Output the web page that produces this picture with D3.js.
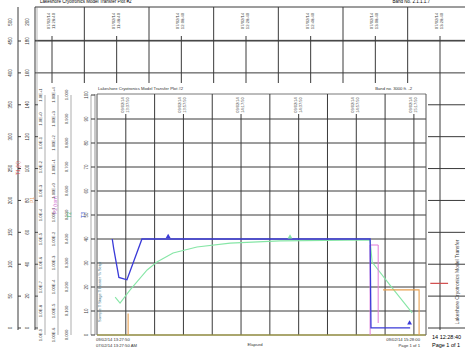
<!DOCTYPE html>
<html>
<head>
<meta charset="utf-8">
<script src="https://cdn.jsdelivr.net/npm/d3@7"></script>
<style>
  html, body { margin: 0; padding: 0; background: #fff; }
  svg { display: block; font-family: "Liberation Sans", "DejaVu Sans", sans-serif; }
</style>
</head>
<body>
<svg id="chart" width="465" height="350"></svg>
<script>
// ---- data ----
// inner chart: elapsed minutes vs temperature
const blueT   = [5.3, 5.8, 7.6, 10.4, 15.6, 94.8, 95.1, 108.7];
const blueV   = [40, 36, 24, 23, 40, 40, 3, 3];
const greenT  = [6.3, 8.0, 11.5, 17.4, 20.8, 26.4, 34.7, 46.2, 63.5, 94.8, 95.5, 101.7, 109.4];
const greenV  = [15.8, 13.3, 18.8, 27.1, 30.4, 34.2, 36.7, 38.3, 39.2, 39.6, 30.4, 20.8, 9.2];
const orangeT = [10.8, 10.8, null, 99.3, 111.8, 111.8];
const orangeV = [0, 9, null, 18.8, 18.8, 0];
const pinkT   = [94.8, 94.8, 97.6, 97.6];
const pinkV   = [0, 37.5, 37.5, 5];
const oliveT  = [0, 114];
const oliveV  = [0, 0];
const blueMarkT = [24.7, 108.5];
const blueMarkV = [41, 5];
const greenMarkT = [67];
const greenMarkV = [40.8];

const innerTicks   = [0, 10, 20, 30, 40, 50, 60, 70, 80, 90, 100];
const innerLabels  = ["0", "10", "20", "30", "40", "50", "60", "70", "80", "90", "100"];
const pressLabelsA = ["1.0E-9", "1.0E-8", "1.0E-7", "1.0E-6", "1.0E-5", "1.0E-4", "1.0E-3", "1.0E-2", "1.0E-1", "1.0E+0", "1.0E+1"];
const pressLabelsB = ["0.000", "0.100", "0.200", "0.300", "0.400", "0.500", "0.600", "0.700", "0.800", "0.900", "1.000"];
const pressLabelsC = ["1.00E-6", "1.00E-5", "1.00E-4", "1.00E-3", "1.00E-2", "1.00E-1", "1.00E+0", "1.00E+1", "1.00E+2", "1.00E+3", "1.00E+4"];
const innerHeadT   = [10, 30, 50, 70, 90, 110];
const innerHeadDate = ["09/02/14", "09/02/14", "09/02/14", "09/02/14", "09/02/14", "09/02/14"];
const innerHeadTime = ["13:37:50", "13:57:50", "14:17:50", "14:37:50", "14:57:50", "15:17:50"];

// outer (background) chart
const outerTicks  = [0, 1, 2, 3, 4, 5, 6, 7, 8, 9];
const outerLabA   = ["0", "50", "100", "150", "200", "250", "300", "350", "400", "450"];
const outerLabB   = ["0", "20", "40", "60", "80", "100", "120", "140", "160", "180"];
const outerHeadT  = [0, 2, 4, 6, 8, 10, 12];
const outerHeadDate = ["07/02/14", "07/02/14", "07/02/14", "07/02/14", "07/02/14", "07/02/14", "07/02/14"];
const outerHeadTime = ["11:28:40", "11:48:40", "12:08:40", "12:28:40", "12:48:40", "13:08:40", "13:28:40"];
const redT = [11.7, 12.25];
const redV = [1.4, 1.4];

// ---- drawing ----
const svg = d3.select('#chart');
const grid = '#3a3a3a';

// outer chart scales
const xOut = d3.scaleLinear().domain([0, 12]).range([52, 440]);
const yOut = d3.scaleLinear().domain([0, 9]).range([328, 41]);
const outTop = 7;

const outer = svg.append('g');
outer.append('text').attr('x', 40).attr('y', 3).attr('font-size', 4.5)
  .text('Lakeshore Cryotronics Model Transfer Plot #2');
outer.append('text').attr('x', 430).attr('y', 3).attr('font-size', 4.5).attr('text-anchor', 'end')
  .text('Band No. 2.1.1.1.7');

// outer horizontal grid
outer.selectAll('.oh').data(outerTicks.concat([9.02]))
  .enter().append('line')
  .attr('x1', 35).attr('x2', 465)
  .attr('y1', d => yOut(d)).attr('y2', d => yOut(d))
  .attr('stroke', grid).attr('stroke-width', 1);
outer.append('line').attr('x1', 35).attr('x2', 465).attr('y1', outTop).attr('y2', outTop)
  .attr('stroke', grid);

// outer vertical grid
const outVert = d3.range(-0.5, 12.6, 1).concat(d3.range(0, 13, 1));
outer.selectAll('.ov').data(d3.range(0, 13, 1))
  .enter().append('line')
  .attr('x1', d => xOut(d)).attr('x2', d => xOut(d))
  .attr('y1', d => outerHeadT.includes(d) ? 36 : outTop).attr('y2', 330)
  .attr('stroke', grid).attr('stroke-width', 1);
outer.append('line').attr('x1', 35).attr('x2', 35).attr('y1', outTop).attr('y2', 330).attr('stroke', grid);
outer.append('line').attr('x1', 37).attr('x2', 37).attr('y1', outTop).attr('y2', 330).attr('stroke', '#888').attr('stroke-width', 0.6);
outer.append('line').attr('x1', 18).attr('x2', 18).attr('y1', outTop).attr('y2', 330).attr('stroke', grid);

// outer left axis labels
[[outerLabA, 12], [outerLabB, 29]].forEach(([labs, x]) => {
  outer.selectAll(null).data(outerTicks).enter().append('text')
    .attr('transform', d => `translate(${x},${yOut(d)}) rotate(-90)`)
    .attr('text-anchor', 'middle').attr('font-size', 4.5).attr('fill', '#333')
    .text((d, i) => labs[i]);
  outer.append('text').attr('transform', `translate(${x},22) rotate(-90)`)
    .attr('text-anchor', 'middle').attr('font-size', 4.5).attr('fill', '#333')
    .text(x === 12 ? '500' : '200');
});
outer.selectAll(null).data(outerTicks).enter().append('line')
  .attr('x1', 18).attr('x2', 21).attr('y1', d => yOut(d)).attr('y2', d => yOut(d)).attr('stroke', grid);

// outer header labels (rotated date / time stacks)
outerHeadT.forEach((t, i) => {
  const x = xOut(t);
  outer.append('text').attr('transform', `translate(${x - 2},21) rotate(-90)`)
    .attr('text-anchor', 'middle').attr('font-size', 4.2).attr('fill', '#444').text(outerHeadDate[i]);
  outer.append('text').attr('transform', `translate(${x + 3},21) rotate(-90)`)
    .attr('text-anchor', 'middle').attr('font-size', 4.2).attr('fill', '#444').text(outerHeadTime[i]);
});

// outer red series
outer.append('path')
  .datum(redT.map((t, i) => [t, redV[i]]))
  .attr('d', d3.line().x(d => xOut(d[0])).y(d => yOut(d[1])))
  .attr('fill', 'none').attr('stroke', '#d04a4a').attr('stroke-width', 1.2);

// outer footer and right side text
outer.append('text').attr('x', 432).attr('y', 339).attr('font-size', 5.5).text('14 12:28:40');
outer.append('text').attr('x', 432).attr('y', 347).attr('font-size', 5.5).text('Page 1 of 1');
outer.append('text').attr('transform', 'translate(459,282) rotate(-90)')
  .attr('text-anchor', 'middle').attr('font-size', 5).attr('fill', '#444')
  .text('Lakeshore Cryotronics Model Transfer');

// ---- inner chart (pasted over) ----
const xIn = d3.scaleLinear().domain([0, 114.2]).range([97, 426]);
const yIn = d3.scaleLinear().domain([0, 90]).range([335, 119]);
const inTop = 94;

const inner = svg.append('g');
inner.append('rect').attr('x', 38).attr('y', 83).attr('width', 390).attr('height', 267).attr('fill', '#fff');

inner.append('text').attr('x', 98).attr('y', 90).attr('font-size', 4.2).attr('fill', '#333')
  .text('Lakeshore Cryotronics Model Transfer Plot #2');
inner.append('text').attr('x', 412).attr('y', 90).attr('font-size', 4.2).attr('fill', '#333').attr('text-anchor', 'end')
  .text('Band no. 3000 ft. -2');

// inner horizontal grid
inner.selectAll(null).data(innerTicks.filter(d => d < 100)).enter().append('line')
  .attr('x1', xIn(0)).attr('x2', xIn(114.2))
  .attr('y1', d => yIn(d)).attr('y2', d => yIn(d))
  .attr('stroke', grid).attr('stroke-width', 1);
inner.append('line').attr('x1', xIn(0)).attr('x2', xIn(114.2)).attr('y1', inTop).attr('y2', inTop)
  .attr('stroke', '#555').attr('stroke-width', 0.8);

// inner vertical grid
inner.selectAll(null).data(d3.range(10, 111, 10)).enter().append('line')
  .attr('x1', d => xIn(d)).attr('x2', d => xIn(d))
  .attr('y1', d => innerHeadT.includes(d) ? 114 : inTop).attr('y2', yIn(0))
  .attr('stroke', grid).attr('stroke-width', 1);
[0, 114.2].forEach(t => {
  inner.append('line').attr('x1', xIn(t)).attr('x2', xIn(t)).attr('y1', inTop).attr('y2', yIn(0))
    .attr('stroke', '#555').attr('stroke-width', 1);
});
inner.append('line').attr('x1', 95).attr('x2', 95).attr('y1', inTop).attr('y2', yIn(0))
  .attr('stroke', '#666').attr('stroke-width', 0.7);

// inner header labels
innerHeadT.forEach((t, i) => {
  const x = xIn(t);
  inner.append('text').attr('transform', `translate(${x - 2},105) rotate(-90)`)
    .attr('text-anchor', 'middle').attr('font-size', 4).attr('fill', '#444').text(innerHeadDate[i]);
  inner.append('text').attr('transform', `translate(${x + 3},105) rotate(-90)`)
    .attr('text-anchor', 'middle').attr('font-size', 4).attr('fill', '#444').text(innerHeadTime[i]);
});

// inner left axes: several stacked columns
const leftCols = [[pressLabelsA, 42], [pressLabelsC, 55], [pressLabelsB, 68], [innerLabels, 88]];
leftCols.forEach(([labs, x]) => {
  inner.selectAll(null).data(innerTicks).enter().append('text')
    .attr('transform', d => `translate(${x},${yIn(d)}) rotate(-90)`)
    .attr('text-anchor', 'middle').attr('font-size', x === 88 ? 4.5 : 4.2).attr('fill', '#3a3a3a')
    .text((d, i) => labs[i]);
  inner.append('line').attr('x1', x + 3).attr('x2', x + 3).attr('y1', yIn(100)).attr('y2', yIn(0))
    .attr('stroke', '#777').attr('stroke-width', 0.6);
});
inner.selectAll(null).data(innerTicks).enter().append('line')
  .attr('x1', 91).attr('x2', 95).attr('y1', d => yIn(d)).attr('y2', d => yIn(d)).attr('stroke', grid);

// coloured axis titles
const titles = [
  ['T1 (K)', 20, 168, '#d84848'], ['P1', 34, 200, '#e8a060'], ['P2 (torr)', 57, 205, '#d070d0'],
  ['T2', 71, 215, '#40b060'], ['T3', 85, 215, '#3050d0']
];
titles.forEach(([s, x, y, c]) => {
  svg.append('text').attr('transform', `translate(${x},${y}) rotate(-90)`)
    .attr('text-anchor', 'middle').attr('font-size', 5).attr('fill', c).text(s);
});

// small legend strip inside the plot edge
inner.append('text').attr('transform', `translate(101,${yIn(18)}) rotate(-90)`)
  .attr('text-anchor', 'middle').attr('font-size', 4).attr('fill', '#4a7a8a')
  .text('Sample T  Stage T  Heater %  Setpt');

// series
const line = d3.line().defined(d => d[0] !== null).x(d => xIn(d[0])).y(d => yIn(d[1]));
const series = [
  [oliveT, oliveV, '#b8b040', 1.2],
  [greenT, greenV, '#86e6a6', 1.1],
  [orangeT, orangeV, '#e8a050', 1.1],
  [pinkT, pinkV, '#e07ad8', 1],
  [blueT, blueV, '#3a3ad8', 1.3]
];
series.forEach(([ts, vs, c, w]) => {
  inner.append('path').datum(ts.map((t, i) => [t, vs[i]]))
    .attr('d', line).attr('fill', 'none').attr('stroke', c).attr('stroke-width', w);
});
const tri = d3.symbol().type(d3.symbolTriangle).size(10);
inner.selectAll(null).data(blueMarkT).enter().append('path')
  .attr('d', tri).attr('transform', (d, i) => `translate(${xIn(d)},${yIn(blueMarkV[i])})`).attr('fill', '#3a3ad8');
inner.selectAll(null).data(greenMarkT).enter().append('path')
  .attr('d', tri).attr('transform', (d, i) => `translate(${xIn(d)},${yIn(greenMarkV[i])})`).attr('fill', '#86e6a6');

// inner footer
inner.append('text').attr('x', 96).attr('y', 341).attr('font-size', 4.2).attr('fill', '#333').text('09/02/14 13:27:50');
inner.append('text').attr('x', 96).attr('y', 346.5).attr('font-size', 4.2).attr('fill', '#333').text('07/02/14 13:27:50 AM');
inner.append('text').attr('x', 255).attr('y', 346).attr('font-size', 4.2).attr('fill', '#333').attr('text-anchor', 'middle').text('Elapsed');
inner.append('text').attr('x', 420).attr('y', 341).attr('font-size', 4.2).attr('fill', '#333').attr('text-anchor', 'end').text('09/02/14 15:28:00');
inner.append('text').attr('x', 420).attr('y', 346.5).attr('font-size', 4.2).attr('fill', '#333').attr('text-anchor', 'end').text('Page 1 of 1');
</script>
</body>
</html>
